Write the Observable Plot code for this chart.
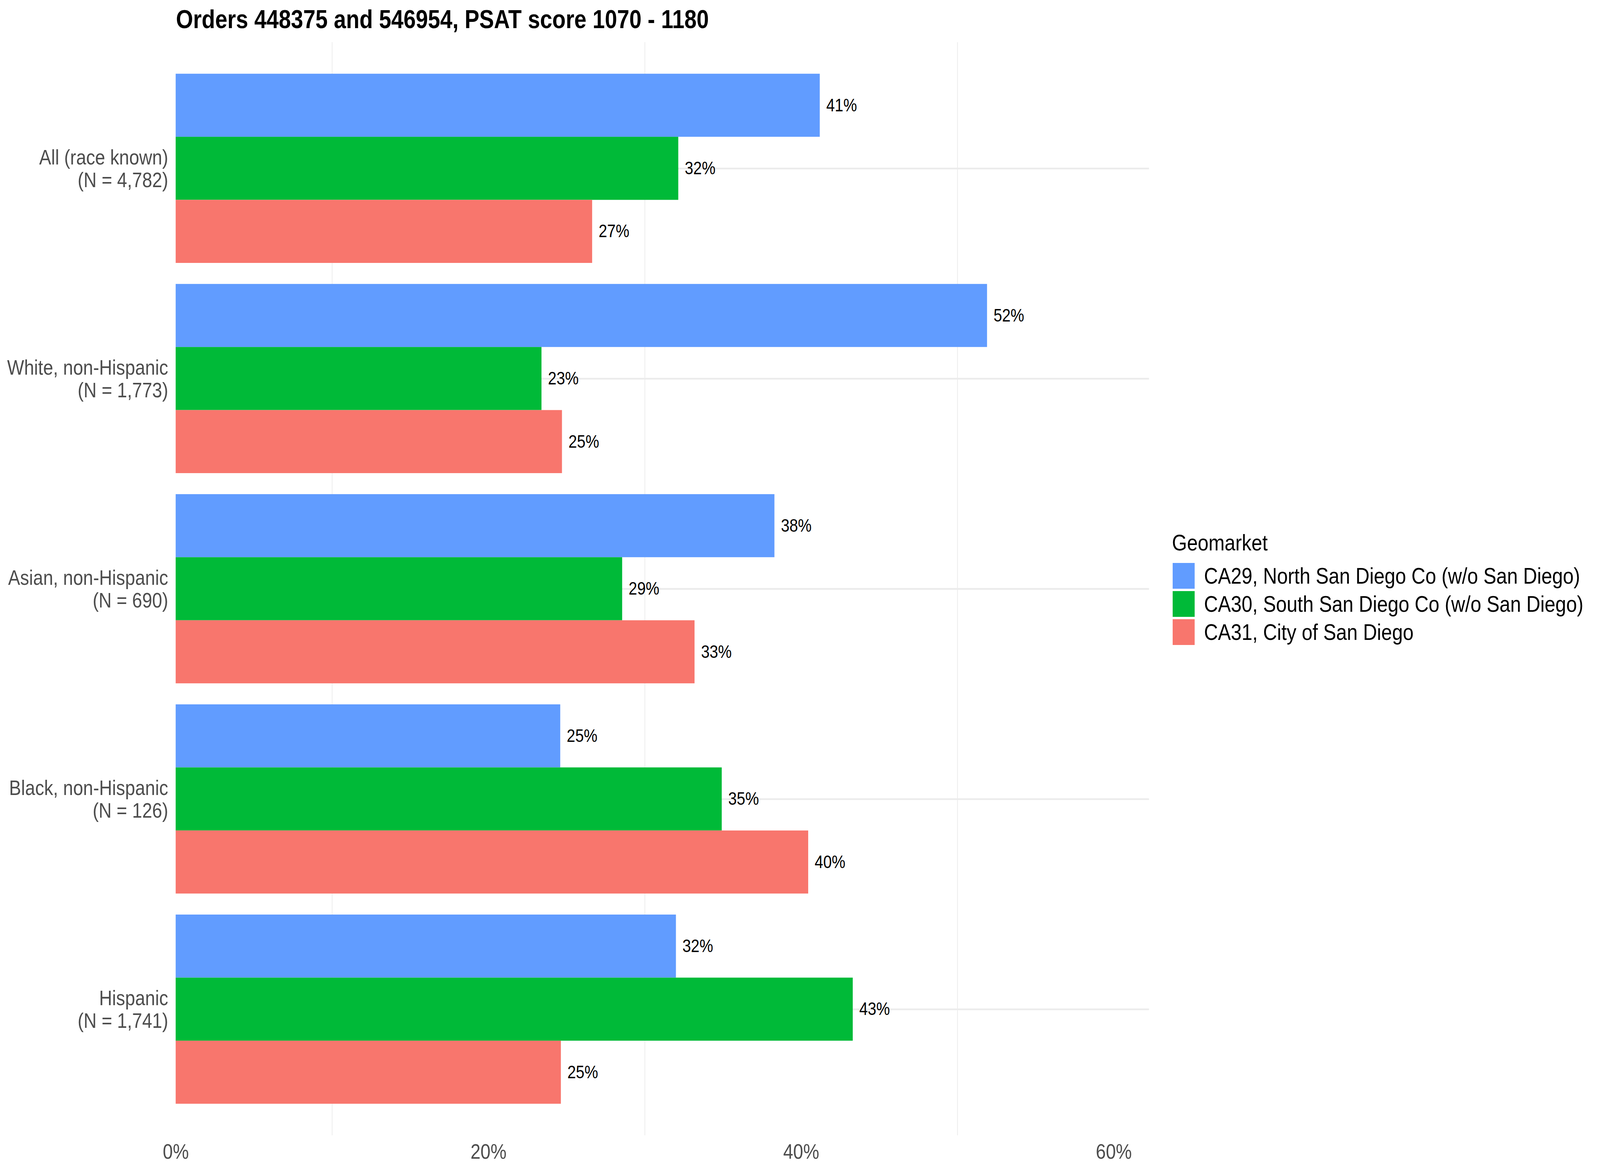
<!DOCTYPE html>
<html>
<head>
<meta charset="utf-8">
<script src="https://cdn.jsdelivr.net/npm/d3@7"></script>
<script src="https://cdn.jsdelivr.net/npm/@observablehq/plot@0.6"></script>
<style>
  html, body { margin: 0; padding: 0; background: #ffffff; overflow: hidden; }
  #wrap { position: relative; width: 4800px; height: 3000px; overflow: hidden; background: #ffffff;
          font-family: "Liberation Sans", Arial, Helvetica, sans-serif; transform-origin: 0 0; }
  #title { box-sizing: border-box; height: 90px; padding-top: 16px; padding-left: 528px;
           font-size: 66px; font-weight: bold; line-height: 66px; color: #000; white-space: nowrap; }
  #chart svg { display: block; max-width: none !important; }
  #legend { position: absolute; left: 3516px; top: 1360px; color: #000; font-size: 58px; }
  #legend .ltitle { line-height: 58px; white-space: nowrap; }
  #legend .lrows { margin-top: 23px; }
  #legend .lrow { display: flex; align-items: center; height: 66px; margin-bottom: 6px; }
  #legend .sw { width: 66px; height: 66px; margin-left: 2px; margin-right: 28px; flex: none; }
  #legend .lab { line-height: 66px; white-space: nowrap; }
</style>
</head>
<body>
<div id="wrap">
  <div id="title"></div>
  <div id="chart"></div>
  <div id="legend"></div>
</div>
<script>
// ---- data ----
const titleText = "Orders 448375 and 546954, PSAT score 1070 - 1180";
const legendTitle = "Geomarket";
const categories = ["All (race known)", "White, non-Hispanic", "Asian, non-Hispanic", "Black, non-Hispanic", "Hispanic"];
const counts = ["4,782", "1,773", "690", "126", "1,741"];
const geomarkets = [
  "CA29, North San Diego Co (w/o San Diego)",
  "CA30, South San Diego Co (w/o San Diego)",
  "CA31, City of San Diego"
];
const ca29 = [0.412, 0.519, 0.383, 0.246, 0.320];
const ca30 = [0.3215, 0.234, 0.2856, 0.3493, 0.4331];
const ca31 = [0.2664, 0.2471, 0.3319, 0.4046, 0.2464];
const geoColors = ["#619CFF", "#00BA38", "#F8766D"];
const xTicks = [0, 0.2, 0.4, 0.6];
const xMinorGrid = [0.1, 0.3, 0.5];
const xLimit = 0.6226;

// ---- table ----
const series = [ca29, ca30, ca31];
const rows = [];
categories.forEach((c, i) => geomarkets.forEach((g, j) =>
  rows.push({category: c, pos: i + 1, geo: g, gi: j, value: series[j][i]})));
const positions = categories.map((c, i) => i + 1);
const dodge = 0.9, slot = dodge / geomarkets.length;
const pct = d3.format(".0%");
const yLabel = p => `${categories[p - 1]}\n(N = ${counts[p - 1]})`;
const font = "'Liberation Sans', Arial, Helvetica, sans-serif";

document.getElementById("title").textContent = titleText;

const plot = Plot.plot({
  width: 4800,
  height: 2910,
  marginLeft: 527,
  marginRight: 1353,
  marginTop: 18,
  marginBottom: 94,
  style: {fontFamily: font, fontSize: "54px", background: "transparent", color: "#000"},
  x: {domain: [0, xLimit], label: null},
  y: {domain: [0.4, categories.length + 0.6], reverse: true, label: null},
  color: {domain: geomarkets, range: geoColors},
  marks: [
    Plot.ruleX(xMinorGrid, {stroke: "#EBEBEB", strokeWidth: 2.1}),
    Plot.ruleY(positions, {stroke: "#EBEBEB", strokeWidth: 4.3}),
    Plot.rect(rows, {
      x1: 0,
      x2: "value",
      y1: d => d.pos - dodge / 2 + d.gi * slot,
      y2: d => d.pos - dodge / 2 + (d.gi + 1) * slot,
      fill: "geo"
    }),
    Plot.text(rows, {
      x: "value",
      y: d => d.pos - dodge / 2 + (d.gi + 0.5) * slot,
      text: d => pct(d.value),
      dx: 19,
      textAnchor: "start",
      fontSize: 46,
      fill: "#000"
    }),
    Plot.axisX(xTicks, {tickSize: 0, tickPadding: 21, tickFormat: pct, color: "#4D4D4D", fontSize: 54, label: null}),
    Plot.axisY(positions, {tickSize: 0, tickPadding: 23, tickFormat: yLabel, color: "#4D4D4D", fontSize: 54, lineHeight: 1.065, label: null})
  ]
});
document.getElementById("chart").appendChild(plot);

// ---- legend (built from the plot's color scale) ----
const colorScale = plot.scale("color");
const legend = document.getElementById("legend");
const lt = document.createElement("div");
lt.className = "ltitle";
lt.textContent = legendTitle;
legend.appendChild(lt);
const lrows = document.createElement("div");
lrows.className = "lrows";
colorScale.domain.forEach(g => {
  const r = document.createElement("div");
  r.className = "lrow";
  const sw = document.createElement("div");
  sw.className = "sw";
  sw.style.background = colorScale.apply(g);
  const lab = document.createElement("div");
  lab.className = "lab";
  lab.textContent = g;
  r.appendChild(sw);
  r.appendChild(lab);
  lrows.appendChild(r);
});
legend.appendChild(lrows);

// ---- fit the 4800x3000 layout into the actual viewport ----
function fit() {
  const W = document.documentElement.clientWidth || window.innerWidth || 4800;
  const H = document.documentElement.clientHeight || window.innerHeight || 3000;
  const sx = W / 4800, sy = H / 3000;
  document.getElementById("wrap").style.transform = (sx === 1 && sy === 1) ? "" : `scale(${sx}, ${sy})`;
}
fit();
window.addEventListener("resize", fit);
</script>
</body>
</html>
